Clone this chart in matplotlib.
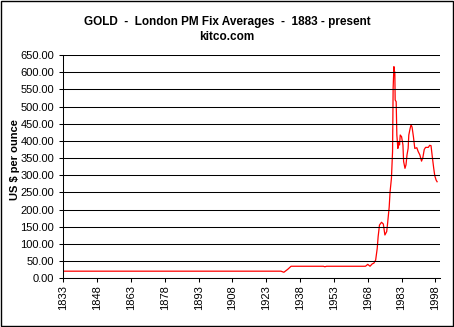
import matplotlib
matplotlib.use("Agg")
import matplotlib.pyplot as plt
from matplotlib.patches import Rectangle
from matplotlib.ticker import FormatStrFormatter

plt.rcParams['font.family'] = ['Liberation Sans', 'DejaVu Sans']

# gold price, annual/monthly averages (US $ per ounce)
years = [1833, 1929.5, 1930.8, 1932.5, 1934, 1948.3, 1949, 1949.7, 1967,
         1968, 1969, 1970, 1970.7, 1971.5, 1972.2, 1972.6, 1973.2, 1974.1,
         1974.9, 1975.6, 1976.4, 1976.8, 1977.5, 1977.9, 1978.5, 1979,
         1979.25, 1979.6, 1979.8, 1980, 1980.15, 1980.6, 1980.9, 1981.35,
         1981.65, 1982.1, 1982.4, 1983, 1983.6, 1983.9, 1984.5, 1984.95,
         1985.4, 1985.9, 1986.2, 1986.75, 1987.2, 1987.65, 1988.25, 1988.85,
         1989.75, 1990.35, 1991.1, 1991.85, 1992.45, 1993.05, 1993.65,
         1994.85, 1995.45, 1996.05, 1996.65, 1997.25, 1997.7, 1998.3, 1998.75]
prices = [20.67, 20.67, 17.5, 26, 35, 35, 33.5, 35, 35,
          40.5, 35, 42, 44, 53, 87, 121, 155, 163,
          158, 126, 136, 160, 207, 252, 291, 369,
          553, 616, 601, 601, 519, 514, 417, 378,
          395, 388, 417, 412, 388, 340, 320, 330,
          359, 378, 417, 435, 447, 440, 412, 378,
          380, 369, 359, 341, 352, 375, 381,
          381, 387, 386, 352, 320, 299, 286, 281]

x_ticks = list(range(1833, 1999, 15))
y_ticks = list(range(0, 651, 50))

fig = plt.figure(figsize=(4.54, 3.27), dpi=100)
ax = fig.add_axes([0.1394, 0.149, 0.8296, 0.6829])

ax.plot(years, prices, color='#ff0000', linewidth=0.9)

ax.set_xlim(1833, 2000)
ax.set_ylim(0, 650)
ax.set_xticks(x_ticks)
ax.set_xticklabels([str(y) for y in x_ticks], rotation=90, fontsize=8)
ax.set_yticks(y_ticks)
ax.yaxis.set_major_formatter(FormatStrFormatter('%.2f'))
ax.tick_params(axis='y', labelsize=8, length=3, width=0.75, pad=3.5)
ax.tick_params(axis='x', length=3, width=0.75, pad=2)
ax.yaxis.grid(True, color='black', linewidth=0.75)
ax.set_axisbelow(False)
for side in ('top', 'right'):
    ax.spines[side].set_visible(False)
for side in ('left', 'bottom'):
    ax.spines[side].set_linewidth(0.75)

fig.text(0.5, 0.9336, "GOLD  -  London PM Fix Averages  -  1883 - present",
         ha='center', va='center', fontsize=8.5, fontweight='bold')
fig.text(0.5, 0.8878, "kitco.com", ha='center', va='center',
         fontsize=8.5, fontweight='bold')
fig.text(0.033, 0.5107, "US $ per ounce", ha='center', va='center',
         rotation=90, fontsize=8, fontweight='bold')

fig.patches.append(Rectangle((0.5 / 454, 1.5 / 327), 1 - 2 / 454, 1 - 2 / 327,
                             transform=fig.transFigure, fill=False,
                             edgecolor='black', linewidth=1.0))

fig.savefig("out.png", dpi=100)
